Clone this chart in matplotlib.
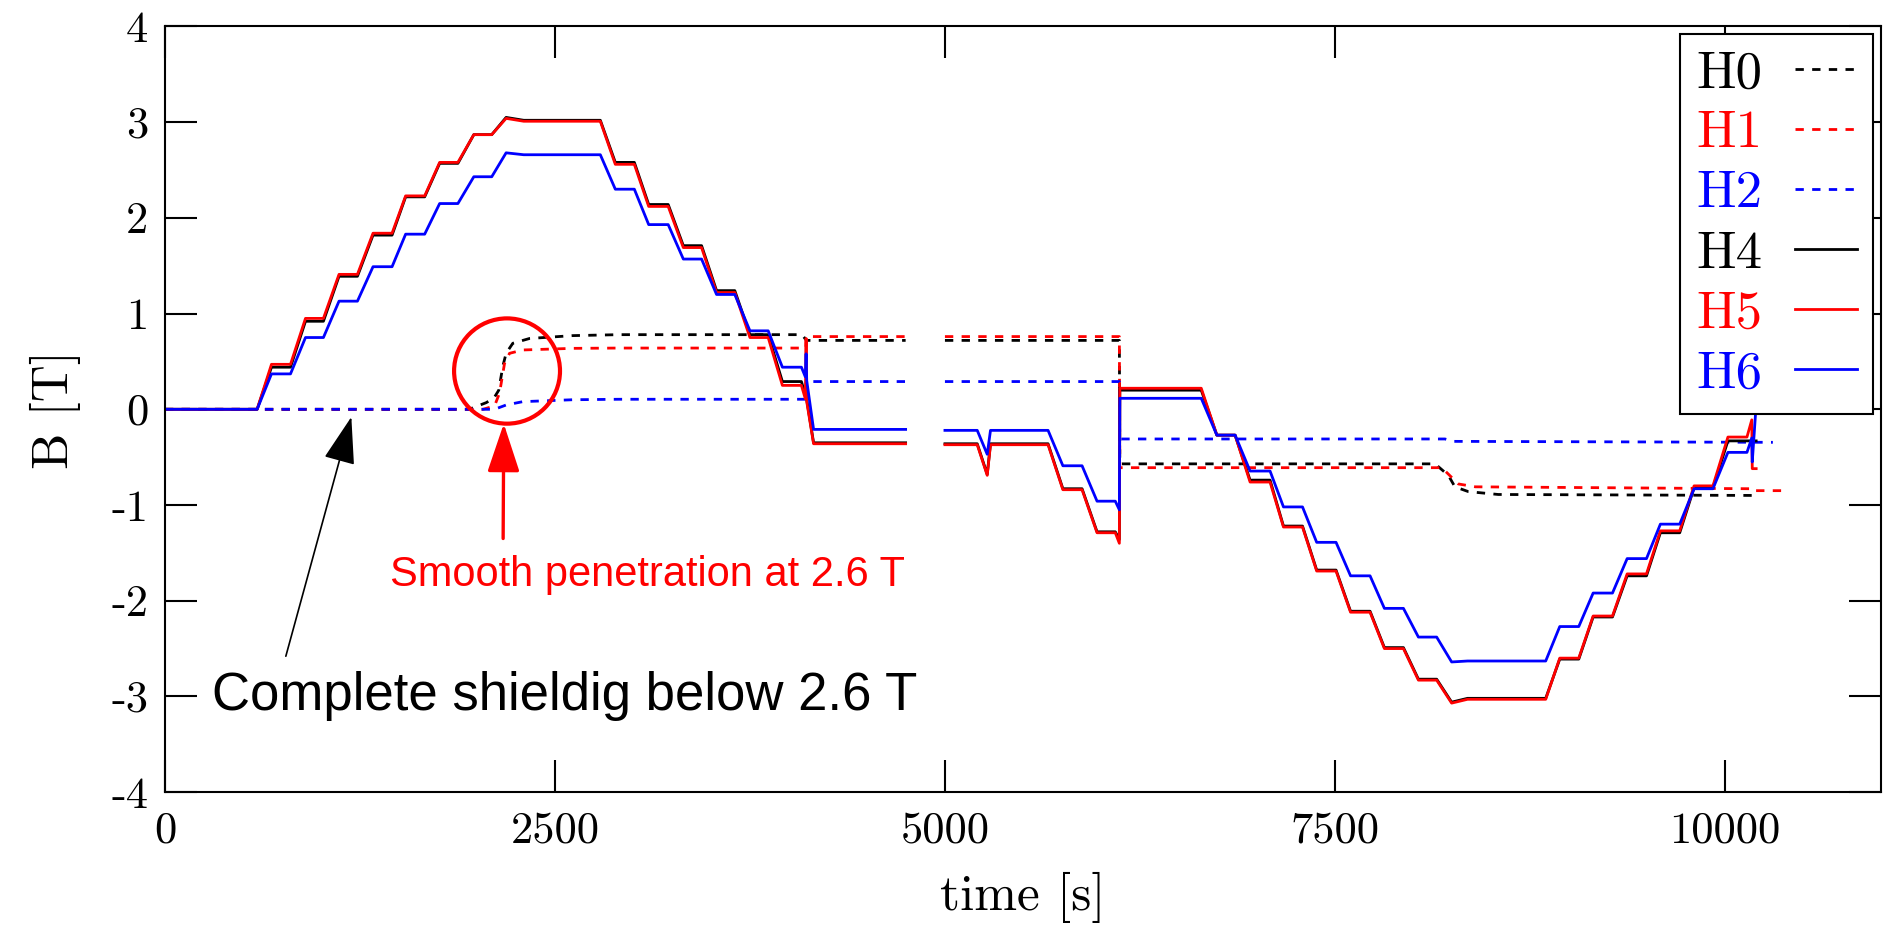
"""
Hall probe field readings during the ramp cycle (H0-H2 dashed, H4-H6 solid)
"""

import numpy as np
import matplotlib.pyplot as plt
from matplotlib import font_manager
from matplotlib.patches import Ellipse

nan = np.nan

# ---- solid probes (H4, H5, H6) share the same time grid ----
t_solid = [0, 591, 683, 805, 901, 1016, 1116, 1234, 1334, 1456, 1543, 1665,
           1761, 1878, 1980, 2095, 2187, 2300, 2791, 2887, 3009, 3101, 3226,
           3323, 3440, 3536, 3653, 3750, 3867, 3958, 4080, 4105, 4110, 4114,
           4158, 4748, nan, 5000, 5207, 5271, 5292, 5661, 5756, 5879, 5975,
           6092, 6118, 6121, 6643, 6743, 6860, 6956, 7084, 7170, 7292, 7383,
           7507, 7600, 7725, 7817, 7939, 8035, 8152, 8248, 8350, 8851, 8941,
           9063, 9155, 9279, 9373, 9497, 9586, 9710, 9802, 9923, 10019, 10141,
           10172, 10175, 10200]

h4 = [0, 0, 0.44, 0.44, 0.92, 0.92, 1.39, 1.39, 1.82, 1.82, 2.22, 2.22,
      2.57, 2.57, 2.87, 2.87, 3.05, 3.02, 3.02, 2.58, 2.58, 2.14, 2.14,
      1.71, 1.71, 1.24, 1.24, 0.78, 0.78, 0.29, 0.29, 0.15, 0.15, 0.10,
      -0.35, -0.35, nan, -0.36, -0.36, -0.68, -0.36, -0.36, -0.83, -0.83,
      -1.28, -1.28, -1.36, 0.20, 0.20, -0.27, -0.27, -0.74, -0.74, -1.22,
      -1.22, -1.68, -1.68, -2.11, -2.11, -2.49, -2.49, -2.82, -2.82, -3.06,
      -3.02, -3.02, -2.61, -2.61, -2.17, -2.17, -1.74, -1.74, -1.29, -1.29,
      -0.82, -0.82, -0.33, -0.33, -0.33, -0.33, -0.33]

h5 = [0, 0, 0.47, 0.47, 0.95, 0.95, 1.41, 1.41, 1.84, 1.84, 2.23, 2.23,
      2.58, 2.58, 2.87, 2.87, 3.04, 3.01, 3.01, 2.56, 2.56, 2.12, 2.12,
      1.69, 1.69, 1.22, 1.22, 0.75, 0.75, 0.25, 0.25, 0.11, 0.74, 0.08,
      -0.36, -0.36, nan, -0.37, -0.37, -0.69, -0.37, -0.37, -0.84, -0.84,
      -1.29, -1.29, -1.40, 0.22, 0.22, -0.27, -0.27, -0.76, -0.76, -1.23,
      -1.23, -1.69, -1.69, -2.12, -2.12, -2.50, -2.50, -2.83, -2.83, -3.07,
      -3.03, -3.03, -2.60, -2.60, -2.16, -2.16, -1.72, -1.72, -1.27, -1.27,
      -0.80, -0.80, -0.29, -0.29, -0.11, -0.62, -0.62]

h6 = [0, 0, 0.37, 0.37, 0.75, 0.75, 1.13, 1.13, 1.49, 1.49, 1.83, 1.83,
      2.15, 2.15, 2.43, 2.43, 2.68, 2.66, 2.66, 2.30, 2.30, 1.93, 1.93,
      1.57, 1.57, 1.20, 1.20, 0.82, 0.82, 0.44, 0.44, 0.34, 0.58, 0.30,
      -0.21, -0.21, nan, -0.22, -0.22, -0.47, -0.22, -0.22, -0.59, -0.59,
      -0.96, -0.96, -1.05, 0.115, 0.115, -0.27, -0.27, -0.645, -0.645, -1.02,
      -1.02, -1.39, -1.39, -1.74, -1.74, -2.08, -2.08, -2.38, -2.38, -2.64,
      -2.63, -2.63, -2.27, -2.27, -1.92, -1.92, -1.56, -1.56, -1.20, -1.20,
      -0.83, -0.83, -0.45, -0.45, -0.30, -0.55, 0.05]

# ---- dashed probes (H0, H1, H2) ----
t_h0 = [0, 1950, 2060, 2110, 2140, 2166, 2187, 2230, 2337, 2614, 2913, 4084,
        4112, 4748, nan, 5000, 6118, 6121, 8142, 8227, 8269, 8355, 8547, 10180]
h0 = [0, 0, 0.07, 0.12, 0.20, 0.45, 0.585, 0.69, 0.74, 0.77, 0.78, 0.78,
      0.72, 0.72, nan, 0.72, 0.72, -0.57, -0.57, -0.69, -0.81, -0.86, -0.89, -0.90]

t_h1 = [0, 2038, 2113, 2145, 2177, 2209, 2294, 2614, 2913, 4108, 4112, 4748,
        nan, 5000, 6118, 6121, 8185, 8291, 8400, 10170, 10175, 10365]
h1 = [0, 0, 0.035, 0.17, 0.48, 0.585, 0.62, 0.637, 0.64, 0.64, 0.76, 0.76,
      nan, 0.76, 0.76, -0.61, -0.61, -0.78, -0.81, -0.83, -0.85, -0.85]

t_h2 = [0, 2113, 2187, 2294, 2614, 2913, 4108, 4112, 4748, nan, 5000, 6118,
        6121, 8205, 8260, 10307]
h2 = [0, 0, 0.045, 0.08, 0.10, 0.105, 0.105, 0.29, 0.29, nan, 0.29, 0.29,
      -0.31, -0.31, -0.335, -0.345]

x_ticks = [0, 2500, 5000, 7500, 10000]
y_ticks = [-4, -3, -2, -1, 0, 1, 2, 3, 4]
y_tick_labels = ['-4', '-3', '-2', '-1', '0', '1', '2', '3', '4']


def pick_font(names):
    """first installed family out of names"""
    for name in names:
        try:
            font_manager.findfont(name, fallback_to_default=False)
            return name
        except ValueError:
            continue
    return 'Liberation Sans'


plt.rcParams['font.family'] = 'cmr10'
plt.rcParams['axes.unicode_minus'] = False

fig = plt.figure(figsize=(18.87, 9.33), dpi=100)
ax = fig.add_axes([0.0874, 0.151, 0.9094, 0.8206])

lw = 2.0
dash = (3.0, 3.0)
ax.plot(t_h0, h0, color='black', lw=lw, dashes=dash, label='H0')
ax.plot(t_h1, h1, color='red', lw=lw, dashes=dash, label='H1')
ax.plot(t_h2, h2, color='blue', lw=lw, dashes=dash, label='H2')
ax.plot(t_solid, h4, color='black', lw=lw, label='H4')
ax.plot(t_solid, h5, color='red', lw=lw, label='H5')
ax.plot(t_solid, h6, color='blue', lw=lw, label='H6')

ax.set_xlim(0, 11000)
ax.set_ylim(-4, 4)
ax.set_xticks(x_ticks)
ax.set_yticks(y_ticks)
ax.set_yticklabels(y_tick_labels)
ax.tick_params(direction='in', length=23, width=1.5, labelsize=32,
               top=True, right=True)
ax.tick_params(axis='x', pad=14)
ax.tick_params(axis='y', pad=12)
for s in ax.spines.values():
    s.set_linewidth(1.5)

ax.set_xlabel('time [s]', fontsize=37, labelpad=15)
ax.set_ylabel('B [T]', fontsize=37, labelpad=22)

# circle around the penetration onset
ax.add_patch(Ellipse((2193, 0.40), 679, 1.10, fill=False, ec='red', lw=3, zorder=5))

sans = 'Liberation Sans'
narrow = pick_font(['Liberation Sans Narrow', 'Arial Narrow'])
smooth_size = 34 if narrow != sans else 30

ax.annotate('', xy=(2172, -0.15), xytext=(2168, -1.35),
            arrowprops=dict(arrowstyle='-|>,head_length=1.5,head_width=0.5',
                            mutation_scale=20, color='red', lw=2.4,
                            shrinkA=0, shrinkB=0))
ax.text(1440, -1.73, 'Smooth penetration at 2.6 T', color='red',
        fontsize=smooth_size, family=narrow, va='center', ha='left')

ax.annotate('', xy=(1195, -0.08), xytext=(775, -2.58),
            arrowprops=dict(arrowstyle='-|>,head_length=1.5,head_width=0.5',
                            mutation_scale=20, color='black', lw=1.2,
                            shrinkA=0, shrinkB=0))
ax.text(300, -3.0, 'Complete shieldig below 2.6 T', color='black',
        fontsize=38, family=sans, va='center', ha='left')

leg = ax.legend(loc='upper right', markerfirst=False, fancybox=False,
                edgecolor='black', framealpha=1, fontsize=38,
                handlelength=1.18, handletextpad=0.62, borderpad=0.3,
                borderaxespad=0.15, labelspacing=0.25)
leg.get_frame().set_linewidth(1.5)
for txt, line in zip(leg.get_texts(), leg.get_lines()):
    txt.set_color(line.get_color())

fig.savefig('out.png', dpi=100)
